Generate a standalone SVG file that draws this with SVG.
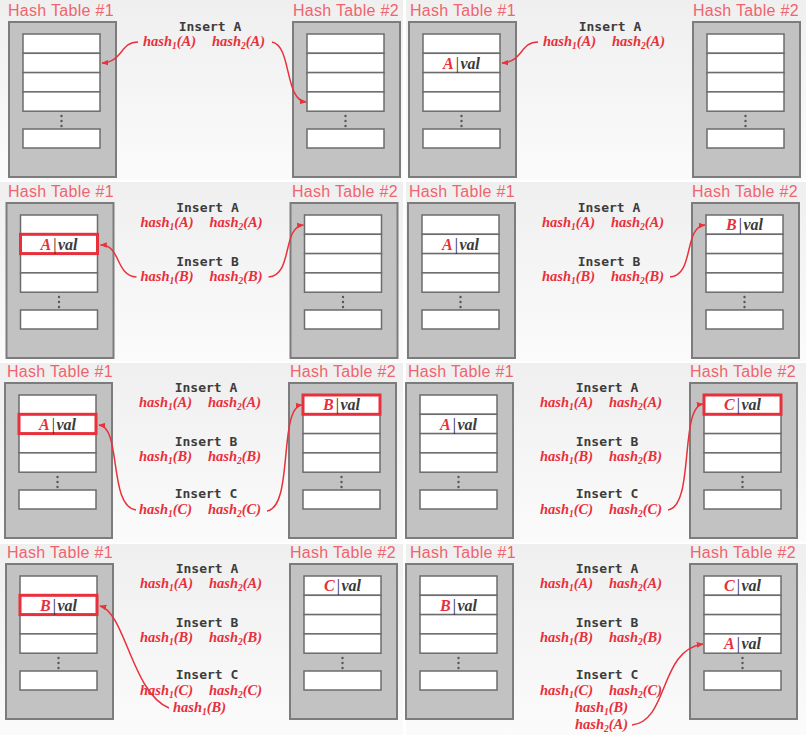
<svg xmlns="http://www.w3.org/2000/svg" xmlns:xlink="http://www.w3.org/1999/xlink" width="806" height="735" viewBox="0 0 806 735">
  <style>
    .ttl { font-family: "Liberation Sans", Arial, sans-serif; font-size: 16px; letter-spacing: 0.3px; fill: #f0646e; }
    .ins { font-family: "DejaVu Sans Mono", "Liberation Mono", monospace; font-weight: bold; font-size: 13px; fill: #3c3c3c; text-anchor: middle; }
    .hf { font-family: "Liberation Serif", "Times New Roman", serif; font-weight: bold; font-style: italic; font-size: 14.5px; fill: #e8303c; }
    .sub { font-size: 9.5px; }
    .cell { font-family: "Liberation Serif", "Times New Roman", serif; font-weight: bold; font-style: italic; font-size: 16px; fill: #3a3a3a; text-anchor: middle; }
    .key { fill: #e8303c; }
    .bar { font-style: normal; font-weight: normal; fill: #222; }
    .box { fill: #c2c2c2; stroke: #7c7c7c; stroke-width: 2; }
    .slot { fill: #ffffff; stroke: #6c6c6c; stroke-width: 1.5; }
    .hl { fill: none; stroke: #e8303c; stroke-width: 3; }
    .dot { fill: #555555; }
    .edge { fill: none; stroke: #e8323c; stroke-width: 1.5; marker-end: url(#ah); }
  </style>
  <defs>
    <linearGradient id="bg" x1="0" y1="0" x2="0" y2="1">
      <stop offset="0" stop-color="#efefef"/>
      <stop offset="1" stop-color="#fbfbfb"/>
    </linearGradient>
    <marker id="ah" viewBox="0 0 10 10" refX="9" refY="5" markerWidth="7" markerHeight="7" markerUnits="userSpaceOnUse" orient="auto">
      <path d="M0,1 L10,5 L0,9 z" fill="#e8323c"/>
    </marker>
    <!-- one hash table: frame, four slots, ellipsis, last slot -->
    <g id="table">
      <rect class="box" x="0" y="0" width="107" height="155"/>
      <rect class="slot" x="14" y="12" width="77" height="19.3"/>
      <rect class="slot" x="14" y="31.3" width="77" height="19.3"/>
      <rect class="slot" x="14" y="50.6" width="77" height="19.3"/>
      <rect class="slot" x="14" y="69.9" width="77" height="19.3"/>
      <circle class="dot" cx="52.5" cy="94" r="1.2"/>
      <circle class="dot" cx="52.5" cy="99" r="1.2"/>
      <circle class="dot" cx="52.5" cy="104" r="1.2"/>
      <rect class="slot" x="14" y="107" width="77" height="19"/>
    </g>
  </defs>

  <!-- step backgrounds -->
  <rect x="0" y="0" width="806" height="735" fill="#ffffff"/>
  <rect x="0" y="0" width="403" height="180" fill="url(#bg)"/>
  <rect x="406" y="0" width="400" height="180" fill="url(#bg)"/>
  <rect x="0" y="182" width="403" height="179" fill="url(#bg)"/>
  <rect x="406" y="182" width="400" height="179" fill="url(#bg)"/>
  <rect x="0" y="363" width="403" height="179" fill="url(#bg)"/>
  <rect x="406" y="363" width="400" height="179" fill="url(#bg)"/>
  <rect x="0" y="544" width="403" height="191" fill="url(#bg)"/>
  <rect x="406" y="544" width="400" height="191" fill="url(#bg)"/>

  <!-- step 1: insert A, both hashes computed -->
  <g id="step1" transform="translate(0,0)">
    <g id="s1-t1">
      <text class="ttl" x="8" y="15.5">Hash Table #1</text>
      <use xlink:href="#table" x="9" y="22"/>
    </g>
    <g id="s1-t2">
      <text class="ttl" x="293" y="15.5">Hash Table #2</text>
      <use xlink:href="#table" x="293" y="22"/>
    </g>
    <g id="s1-ops">
      <text class="ins" x="210" y="31">Insert A</text>
      <text class="hf" x="143" y="46">hash<tspan class="sub" dy="3">1</tspan><tspan dy="-3">(A)</tspan></text>
      <text class="hf" x="212" y="46">hash<tspan class="sub" dy="3">2</tspan><tspan dy="-3">(A)</tspan></text>
    </g>
  </g>

  <!-- step 2: A stored in table 1 -->
  <g id="step2" transform="translate(400,0)">
    <g id="s2-t1">
      <text class="ttl" x="10" y="15.5">Hash Table #1</text>
      <use xlink:href="#table" x="9" y="22"/>
      <text class="cell" x="61.5" y="68.5"><tspan class="key">A</tspan><tspan class="bar" dx="2">|</tspan><tspan dx="1.5">val</tspan></text>
    </g>
    <g id="s2-t2">
      <text class="ttl" x="293" y="15.5">Hash Table #2</text>
      <use xlink:href="#table" x="293" y="22"/>
    </g>
    <g id="s2-ops">
      <text class="ins" x="210" y="31">Insert A</text>
      <text class="hf" x="143" y="46">hash<tspan class="sub" dy="3">1</tspan><tspan dy="-3">(A)</tspan></text>
      <text class="hf" x="212" y="46">hash<tspan class="sub" dy="3">2</tspan><tspan dy="-3">(A)</tspan></text>
    </g>
  </g>

  <!-- step 3: insert B, slot in table 1 taken -->
  <g id="step3" transform="translate(-2.5,181)">
    <g id="s3-t1">
      <text class="ttl" x="10.5" y="15.5">Hash Table #1</text>
      <use xlink:href="#table" x="9" y="22"/>
      <rect class="hl" x="23" y="53.3" width="77" height="19.3"/>
      <text class="cell" x="61.5" y="68.5"><tspan class="key">A</tspan><tspan class="bar" dx="2">|</tspan><tspan dx="1.5">val</tspan></text>
    </g>
    <g id="s3-t2">
      <text class="ttl" x="294.5" y="15.5">Hash Table #2</text>
      <use xlink:href="#table" x="293" y="22"/>
    </g>
    <g id="s3-ops">
      <text class="ins" x="210" y="31">Insert A</text>
      <text class="hf" x="143" y="46">hash<tspan class="sub" dy="3">1</tspan><tspan dy="-3">(A)</tspan></text>
      <text class="hf" x="212" y="46">hash<tspan class="sub" dy="3">2</tspan><tspan dy="-3">(A)</tspan></text>
      <text class="ins" x="210" y="85">Insert B</text>
      <text class="hf" x="143" y="100">hash<tspan class="sub" dy="3">1</tspan><tspan dy="-3">(B)</tspan></text>
      <text class="hf" x="212" y="100">hash<tspan class="sub" dy="3">2</tspan><tspan dy="-3">(B)</tspan></text>
    </g>
  </g>

  <!-- step 4: B stored in table 2 -->
  <g id="step4" transform="translate(399,181)">
    <g id="s4-t1">
      <text class="ttl" x="10" y="15.5">Hash Table #1</text>
      <use xlink:href="#table" x="9" y="22"/>
      <text class="cell" x="61.5" y="68.5"><tspan class="key">A</tspan><tspan class="bar" dx="2">|</tspan><tspan dx="1.5">val</tspan></text>
    </g>
    <g id="s4-t2">
      <text class="ttl" x="293" y="15.5">Hash Table #2</text>
      <use xlink:href="#table" x="293" y="22"/>
      <text class="cell" x="345.5" y="49.2"><tspan class="key">B</tspan><tspan class="bar" dx="2">|</tspan><tspan dx="1.5">val</tspan></text>
    </g>
    <g id="s4-ops">
      <text class="ins" x="210" y="31">Insert A</text>
      <text class="hf" x="143" y="46">hash<tspan class="sub" dy="3">1</tspan><tspan dy="-3">(A)</tspan></text>
      <text class="hf" x="212" y="46">hash<tspan class="sub" dy="3">2</tspan><tspan dy="-3">(A)</tspan></text>
      <text class="ins" x="210" y="85">Insert B</text>
      <text class="hf" x="143" y="100">hash<tspan class="sub" dy="3">1</tspan><tspan dy="-3">(B)</tspan></text>
      <text class="hf" x="212" y="100">hash<tspan class="sub" dy="3">2</tspan><tspan dy="-3">(B)</tspan></text>
    </g>
  </g>

  <!-- step 5: insert C, both candidate slots taken -->
  <g id="step5" transform="translate(-4,361)">
    <g id="s5-t1">
      <text class="ttl" x="11" y="16">Hash Table #1</text>
      <use xlink:href="#table" x="9" y="22"/>
      <rect class="hl" x="23" y="53.3" width="77" height="19.3"/>
      <text class="cell" x="61.5" y="68.5"><tspan class="key">A</tspan><tspan class="bar" dx="2">|</tspan><tspan dx="1.5">val</tspan></text>
    </g>
    <g id="s5-t2">
      <text class="ttl" x="294" y="16">Hash Table #2</text>
      <use xlink:href="#table" x="293" y="22"/>
      <rect class="hl" x="307" y="34" width="77" height="19.3"/>
      <text class="cell" x="345.5" y="49.2"><tspan class="key">B</tspan><tspan class="bar" dx="2">|</tspan><tspan dx="1.5">val</tspan></text>
    </g>
    <g id="s5-ops">
      <text class="ins" x="210" y="31">Insert A</text>
      <text class="hf" x="143" y="46">hash<tspan class="sub" dy="3">1</tspan><tspan dy="-3">(A)</tspan></text>
      <text class="hf" x="212" y="46">hash<tspan class="sub" dy="3">2</tspan><tspan dy="-3">(A)</tspan></text>
      <text class="ins" x="210" y="85">Insert B</text>
      <text class="hf" x="143" y="100">hash<tspan class="sub" dy="3">1</tspan><tspan dy="-3">(B)</tspan></text>
      <text class="hf" x="212" y="100">hash<tspan class="sub" dy="3">2</tspan><tspan dy="-3">(B)</tspan></text>
      <text class="ins" x="210" y="137">Insert C</text>
      <text class="hf" x="143" y="153">hash<tspan class="sub" dy="3">1</tspan><tspan dy="-3">(C)</tspan></text>
      <text class="hf" x="212" y="153">hash<tspan class="sub" dy="3">2</tspan><tspan dy="-3">(C)</tspan></text>
    </g>
  </g>

  <!-- step 6: C evicts B from table 2 -->
  <g id="step6" transform="translate(397,361)">
    <g id="s6-t1">
      <text class="ttl" x="11" y="16">Hash Table #1</text>
      <use xlink:href="#table" x="9" y="22"/>
      <text class="cell" x="61.5" y="68.5"><tspan class="key">A</tspan><tspan class="bar" dx="2">|</tspan><tspan dx="1.5">val</tspan></text>
    </g>
    <g id="s6-t2">
      <text class="ttl" x="293" y="16">Hash Table #2</text>
      <use xlink:href="#table" x="293" y="22"/>
      <rect class="hl" x="307" y="34" width="77" height="19.3"/>
      <text class="cell" x="345.5" y="49.2"><tspan class="key">C</tspan><tspan class="bar" dx="2">|</tspan><tspan dx="1.5">val</tspan></text>
    </g>
    <g id="s6-ops">
      <text class="ins" x="210" y="31">Insert A</text>
      <text class="hf" x="143" y="46">hash<tspan class="sub" dy="3">1</tspan><tspan dy="-3">(A)</tspan></text>
      <text class="hf" x="212" y="46">hash<tspan class="sub" dy="3">2</tspan><tspan dy="-3">(A)</tspan></text>
      <text class="ins" x="210" y="85">Insert B</text>
      <text class="hf" x="143" y="100">hash<tspan class="sub" dy="3">1</tspan><tspan dy="-3">(B)</tspan></text>
      <text class="hf" x="212" y="100">hash<tspan class="sub" dy="3">2</tspan><tspan dy="-3">(B)</tspan></text>
      <text class="ins" x="210" y="137">Insert C</text>
      <text class="hf" x="143" y="153">hash<tspan class="sub" dy="3">1</tspan><tspan dy="-3">(C)</tspan></text>
      <text class="hf" x="212" y="153">hash<tspan class="sub" dy="3">2</tspan><tspan dy="-3">(C)</tspan></text>
    </g>
  </g>

  <!-- step 7: evicted B rehashed into table 1, evicting A -->
  <g id="step7" transform="translate(-3,542)">
    <g id="s7-t1">
      <text class="ttl" x="10" y="15.5">Hash Table #1</text>
      <use xlink:href="#table" x="9" y="22"/>
      <rect class="hl" x="23" y="53.3" width="77" height="19.3"/>
      <text class="cell" x="61.5" y="68.5"><tspan class="key">B</tspan><tspan class="bar" dx="2">|</tspan><tspan dx="1.5">val</tspan></text>
    </g>
    <g id="s7-t2">
      <text class="ttl" x="293" y="15.5">Hash Table #2</text>
      <use xlink:href="#table" x="293" y="22"/>
      <text class="cell" x="345.5" y="49.2"><tspan class="key">C</tspan><tspan class="bar" dx="2">|</tspan><tspan dx="1.5">val</tspan></text>
    </g>
    <g id="s7-ops">
      <text class="ins" x="210" y="31">Insert A</text>
      <text class="hf" x="143" y="46">hash<tspan class="sub" dy="3">1</tspan><tspan dy="-3">(A)</tspan></text>
      <text class="hf" x="212" y="46">hash<tspan class="sub" dy="3">2</tspan><tspan dy="-3">(A)</tspan></text>
      <text class="ins" x="210" y="85">Insert B</text>
      <text class="hf" x="143" y="100">hash<tspan class="sub" dy="3">1</tspan><tspan dy="-3">(B)</tspan></text>
      <text class="hf" x="212" y="100">hash<tspan class="sub" dy="3">2</tspan><tspan dy="-3">(B)</tspan></text>
      <text class="ins" x="210" y="137">Insert C</text>
      <text class="hf" x="143" y="153">hash<tspan class="sub" dy="3">1</tspan><tspan dy="-3">(C)</tspan></text>
      <text class="hf" x="212" y="153">hash<tspan class="sub" dy="3">2</tspan><tspan dy="-3">(C)</tspan></text>
      <text class="hf" x="176" y="170">hash<tspan class="sub" dy="3">1</tspan><tspan dy="-3">(B)</tspan></text>
    </g>
  </g>

  <!-- step 8: evicted A rehashed into table 2 -->
  <g id="step8" transform="translate(397,542)">
    <g id="s8-t1">
      <text class="ttl" x="13" y="16">Hash Table #1</text>
      <use xlink:href="#table" x="9" y="22"/>
      <text class="cell" x="61.5" y="68.5"><tspan class="key">B</tspan><tspan class="bar" dx="2">|</tspan><tspan dx="1.5">val</tspan></text>
    </g>
    <g id="s8-t2">
      <text class="ttl" x="293" y="16">Hash Table #2</text>
      <use xlink:href="#table" x="293" y="22"/>
      <text class="cell" x="345.5" y="49.2"><tspan class="key">C</tspan><tspan class="bar" dx="2">|</tspan><tspan dx="1.5">val</tspan></text>
      <text class="cell" x="345.5" y="107"><tspan class="key">A</tspan><tspan class="bar" dx="2">|</tspan><tspan dx="1.5">val</tspan></text>
    </g>
    <g id="s8-ops">
      <text class="ins" x="210" y="31">Insert A</text>
      <text class="hf" x="143" y="46">hash<tspan class="sub" dy="3">1</tspan><tspan dy="-3">(A)</tspan></text>
      <text class="hf" x="212" y="46">hash<tspan class="sub" dy="3">2</tspan><tspan dy="-3">(A)</tspan></text>
      <text class="ins" x="210" y="85">Insert B</text>
      <text class="hf" x="143" y="100">hash<tspan class="sub" dy="3">1</tspan><tspan dy="-3">(B)</tspan></text>
      <text class="hf" x="212" y="100">hash<tspan class="sub" dy="3">2</tspan><tspan dy="-3">(B)</tspan></text>
      <text class="ins" x="210" y="137">Insert C</text>
      <text class="hf" x="143" y="153">hash<tspan class="sub" dy="3">1</tspan><tspan dy="-3">(C)</tspan></text>
      <text class="hf" x="212" y="153">hash<tspan class="sub" dy="3">2</tspan><tspan dy="-3">(C)</tspan></text>
      <text class="hf" x="178" y="170">hash<tspan class="sub" dy="3">1</tspan><tspan dy="-3">(B)</tspan></text>
      <text class="hf" x="178" y="187">hash<tspan class="sub" dy="3">2</tspan><tspan dy="-3">(A)</tspan></text>
    </g>
  </g>

  <!-- hash-to-slot arrows -->
  <g id="connectors">
    <g transform="translate(0,0)">
      <path class="edge" d="M138,42 C120,42 123,62 102,63"/>
      <path class="edge" d="M272,42 C292,46 284,100 306,102"/>
    </g>
    <g transform="translate(400,0)">
      <path class="edge" d="M138,42 C120,42 123,62 102,63"/>
    </g>
    <g transform="translate(-2.5,181)">
      <path class="edge" d="M139,96 C117,94 124,64 103,64"/>
      <path class="edge" d="M271,96 C296,94 284,46 306,44"/>
    </g>
    <g transform="translate(399,181)">
      <path class="edge" d="M271,96 C296,94 284,46 306,44"/>
    </g>
    <g transform="translate(-4,361)">
      <path class="edge" d="M140,149 C112,145 126,66 103,64"/>
      <path class="edge" d="M271,150 C298,146 282,46 306,44"/>
    </g>
    <g transform="translate(397,361)">
      <path class="edge" d="M271,149 C298,145 282,46 306,43"/>
    </g>
    <g transform="translate(-3,542)">
      <path class="edge" d="M172,166 C135,151 128,70 103,64"/>
    </g>
    <g transform="translate(397,542)">
      <path class="edge" d="M235,183 C272,179 262,108 306,102"/>
    </g>
  </g>
</svg>
